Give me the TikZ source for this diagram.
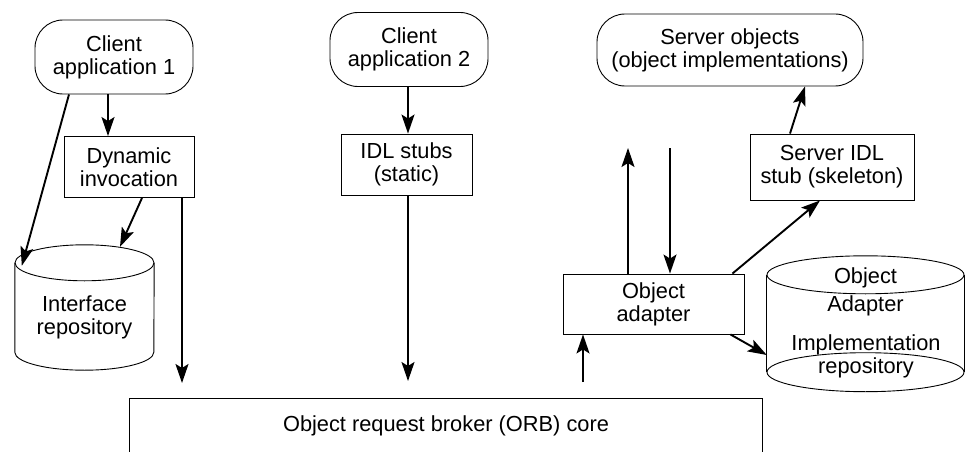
\documentclass[tikz,border=0pt]{standalone}
\usepackage{fontspec}
\setmainfont{Liberation Sans}
\usetikzlibrary{arrows.meta,calc}
\begin{document}
\begin{tikzpicture}[x=1pt,y=-1pt,
  every node/.style={font=\fontsize{21.8}{23}\selectfont, align=center, inner sep=0pt},
  box/.style={draw, line width=0.9pt},
  pill/.style={draw, line width=0.9pt, rounded corners=28pt},
  outline/.style={line width=0.9pt},
  arr/.style={line width=1.9pt, -{Stealth[length=19pt,width=13pt,inset=4pt]}}]
\useasboundingbox (0,0) rectangle (967,452);

% client side
\node[pill, minimum width=158pt, minimum height=74pt] (c1) at (114,57) {Client\\application 1};
\node[box, minimum width=130pt, minimum height=61pt] (dyn) at (129,167) {Dynamic\\invocation};
\node[pill, minimum width=158pt, minimum height=74pt] (c2) at (409,49.5) {Client\\application 2};
\node[box, minimum width=131pt, minimum height=61pt] (idl) at (406.5,164.5) {IDL stubs\\(static)};

% server side
\node[pill, minimum width=266pt, minimum height=72pt] (srv) at (730,50) {Server objects\\(object implementations)};
\node[box, minimum width=164pt, minimum height=66pt] (sidl) at (832,167) {Server IDL\\stub (skeleton)};
\node[box, minimum width=181pt, minimum height=60pt] (oa) at (653.5,304) {Object\\adapter};

% ORB core, open at the bottom
\node[minimum width=632pt, minimum height=56pt, anchor=north] (orb) at (446,398) {Object request broker (ORB) core};
\draw[outline] (orb.south west) -- (orb.north west) -- (orb.north east) -- (orb.south east);

% interface repository cylinder
\node[minimum width=139pt, minimum height=89pt] (ir) at (84.5,307.5) {};
\draw[outline] (ir.north) ellipse [x radius=69.5, y radius=18];
\draw[outline] (ir.north west) -- (ir.south west) arc[start angle=180, end angle=0, x radius=69.5, y radius=18] -- (ir.north east);
\node (irlabel) at (84.5,317.7) {Interface\\repository};

% implementation repository cylinder
\node[minimum width=197pt, minimum height=97pt] (oir) at (865.5,323.5) {};
\draw[outline] (oir.north) ellipse [x radius=98.5, y radius=19];
\draw[outline] (oir.south) ellipse [x radius=98.5, y radius=19.5];
\draw[outline] (oir.north west) -- (oir.south west);
\draw[outline] (oir.north east) -- (oir.south east);
\node (oirtop) at (865.5,291.5) {Object\\[5pt]Adapter};
\node (oirbot) at (866,356) {Implementation\\repository};

% connectors
\coordinate (upend) at (628,148);
\coordinate (dnstart) at (670,148);
\draw[arr] (c1.south -| 108,0) -- (dyn.north -| 108,0);
\draw[arr] (c1.south -| 69,0) -- ([shift={(7,3)}]ir.north west);
\draw[arr] (dyn.south -| 142,0) -- ([shift={(35.5,-16)}]ir.north);
\draw[arr, shorten >=15pt] (dyn.south -| 182,0) -- (orb.north -| 182,0);
\draw[arr] (c2.south -| 408,0) -- (idl.north -| 408,0);
\draw[arr, shorten >=17pt] (idl.south -| 408,0) -- (orb.north -| 408,0);
\draw[arr, shorten <=16pt] (orb.north -| 583,0) -- (oa.south -| 583,0);
\draw[arr] (oa.north -| 628,0) -- (upend);
\draw[arr] (dnstart) -- (oa.north -| 670,0);
\draw[arr] ([xshift=-12pt]oa.north east) -- ([xshift=-12pt]sidl.south);
\draw[arr] ([xshift=-42pt]sidl.north) -- ([xshift=75pt]srv.south);
\draw[arr] ([xshift=-14pt]oa.south east) -- ([shift={(0,31.5)}]oir.west);
\end{tikzpicture}
\end{document}
